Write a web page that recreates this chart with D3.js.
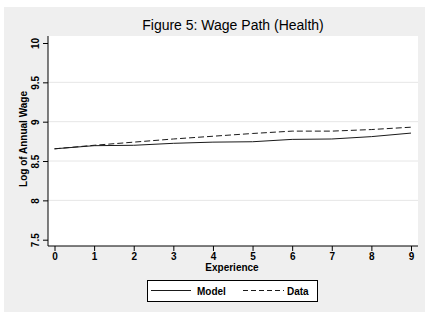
<!DOCTYPE html>
<html>
<head>
<meta charset="utf-8">
<script src="https://cdn.jsdelivr.net/npm/d3@7"></script>
<style>
  body { margin: 0; background: #fff; }
  text { font-family: "Liberation Sans", Arial, Helvetica, sans-serif; }
</style>
</head>
<body>
<div id="chart"></div>
<script>
// data
var experience = [0, 1, 2, 3, 4, 5, 6, 7, 8, 9];
var model = [8.655, 8.695, 8.70, 8.725, 8.74, 8.745, 8.775, 8.78, 8.81, 8.855];
var dataSeries = [8.655, 8.70, 8.74, 8.78, 8.815, 8.85, 8.88, 8.88, 8.90, 8.93];
var yTicks = [7.5, 8, 8.5, 9, 9.5, 10];
var yTickLabels = ["7.5", "8", "8.5", "9", "9.5", "10"];
var legendLabels = ["Model", "Data"];

var W = 425, H = 312;
var plot = { left: 48, right: 418, top: 36, bottom: 246 };

var svg = d3.select("#chart").append("svg")
    .attr("width", W)
    .attr("height", H);

// outer grey panel
svg.append("rect")
    .attr("x", 4).attr("y", 7)
    .attr("width", W - 4).attr("height", H - 7)
    .attr("fill", "#efefef");

// plot region
svg.append("rect")
    .attr("x", plot.left).attr("y", plot.top)
    .attr("width", plot.right - plot.left).attr("height", plot.bottom - plot.top)
    .attr("fill", "#fff");

var x = d3.scaleLinear().domain([0, 9]).range([54.5, 411]);
var y = d3.scaleLinear().domain([7.5, 10]).range([239.7, 43]);

// grid lines on the inner ticks
svg.append("g").selectAll("line")
    .data(yTicks.slice(1, -1))
    .enter().append("line")
    .attr("x1", plot.left).attr("x2", plot.right)
    .attr("y1", function(d) { return y(d); })
    .attr("y2", function(d) { return y(d); })
    .attr("stroke", "#e6e6e6")
    .attr("stroke-width", 1);

var line = d3.line()
    .x(function(d, i) { return x(experience[i]); })
    .y(function(d) { return y(d); });

svg.append("path")
    .datum(model)
    .attr("d", line)
    .attr("fill", "none")
    .attr("stroke", "#1a1a1a")
    .attr("stroke-width", 1);

svg.append("path")
    .datum(dataSeries)
    .attr("d", line)
    .attr("fill", "none")
    .attr("stroke", "#1a1a1a")
    .attr("stroke-width", 1)
    .attr("stroke-dasharray", "6,3");

// y axis
var yAxis = svg.append("g")
    .attr("transform", "translate(" + plot.left + ",0)")
    .call(d3.axisLeft(y).tickValues(yTicks)
        .tickFormat(function(d, i) { return yTickLabels[i]; })
        .tickSize(5).tickSizeOuter(0));
yAxis.select(".domain").attr("d", "M0," + plot.top + "V" + plot.bottom).attr("stroke", "#000");
yAxis.selectAll(".tick line").attr("stroke", "#000");
yAxis.selectAll(".tick text")
    .attr("transform", "rotate(-90)")
    .attr("x", 0).attr("y", -9)
    .attr("dy", 0)
    .style("text-anchor", "middle")
    .style("font-size", "10px")
    .style("font-weight", "bold")
    .style("font-family", "'Liberation Sans', Arial, sans-serif")
    .attr("fill", "#000");

// x axis
var xAxis = svg.append("g")
    .attr("transform", "translate(0," + plot.bottom + ")")
    .call(d3.axisBottom(x).tickValues(experience).tickFormat(d3.format("d"))
        .tickSize(5).tickSizeOuter(0));
xAxis.select(".domain").attr("d", "M" + plot.left + ",0H" + plot.right).attr("stroke", "#000");
xAxis.selectAll(".tick line").attr("stroke", "#000");
xAxis.selectAll(".tick text")
    .attr("y", 7)
    .style("font-size", "10px")
    .style("font-weight", "bold")
    .style("font-family", "'Liberation Sans', Arial, sans-serif")
    .attr("fill", "#000");

// titles
svg.append("text")
    .attr("x", 233).attr("y", 30)
    .style("text-anchor", "middle")
    .style("font-size", "14px")
    .attr("fill", "#000")
    .text("Figure 5: Wage Path (Health)");

svg.append("text")
    .attr("x", 232).attr("y", 271)
    .style("text-anchor", "middle")
    .style("font-size", "10px")
    .style("font-weight", "bold")
    .text("Experience");

svg.append("text")
    .attr("transform", "translate(27,139) rotate(-90)")
    .style("text-anchor", "middle")
    .style("font-size", "10px")
    .style("font-weight", "bold")
    .text("Log of Annual Wage");

// legend
var legend = svg.append("g");
legend.append("rect")
    .attr("x", 147.5).attr("y", 280.5)
    .attr("width", 170).attr("height", 21)
    .attr("fill", "#fff")
    .attr("stroke", "#000")
    .attr("stroke-width", 1);

var legendItems = [
  { x1: 151, x2: 191, tx: 197, dash: null },
  { x1: 243, x2: 284, tx: 287, dash: "5,3" }
];
legendItems.forEach(function(it, i) {
  legend.append("line")
      .attr("x1", it.x1).attr("x2", it.x2)
      .attr("y1", 290.5).attr("y2", 290.5)
      .attr("stroke", "#1a1a1a")
      .attr("stroke-width", 1)
      .attr("stroke-dasharray", it.dash);
  legend.append("text")
      .attr("x", it.tx).attr("y", 294.5)
      .style("font-size", "10px")
      .style("font-weight", "bold")
      .text(legendLabels[i]);
});
</script>
</body>
</html>
